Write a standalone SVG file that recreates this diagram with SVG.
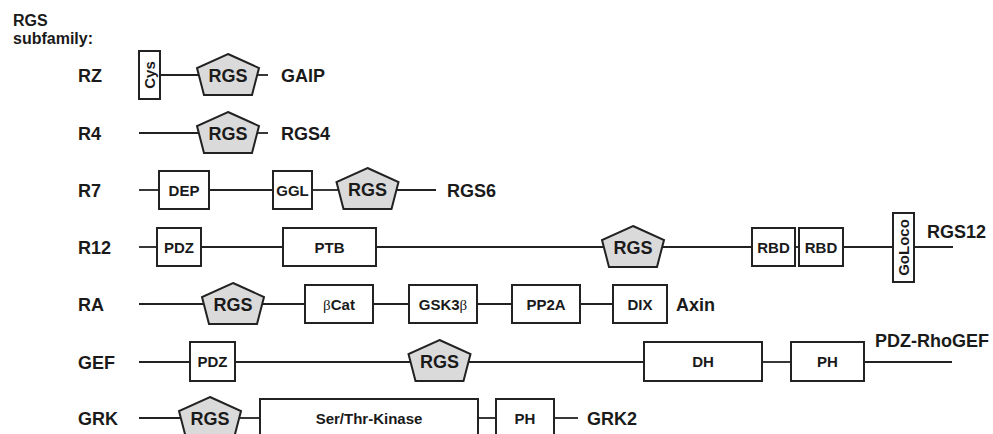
<svg xmlns="http://www.w3.org/2000/svg" xmlns:xlink="http://www.w3.org/1999/xlink" width="993" height="434" viewBox="0 0 993 434">
<style>
  .ln { stroke:#222; stroke-width:1.8; fill:none; }
  .box { fill:#fff; stroke:#222; stroke-width:2; }
  .pent { fill:#dadada; stroke:#222; stroke-width:2; stroke-linejoin:miter; }
  text { font-family:"Liberation Sans", Arial, sans-serif; font-weight:bold; fill:#1a1a1a; }
  .lbl { font-size:18px; }
  .ttl { font-size:16px; }
  .bt { font-size:15px; text-anchor:middle; }
  .pt { font-size:18px; text-anchor:middle; }
  .gr { font-family:"Liberation Serif", "Times New Roman", serif; font-weight:normal; }
</style>
<defs>
  <polygon id="pent" class="pent" points="0,0 31,14 24,41 -24,41 -31,14"/>
</defs>
<rect width="993" height="434" fill="#fff"/>

<g id="title">
  <text class="ttl" x="13" y="26">RGS</text>
  <text class="ttl" x="13" y="44">subfamily:</text>
</g>

<g id="connectors">
  <!-- RZ -->
  <line class="ln" x1="160" y1="75" x2="198" y2="75"/>
  <line class="ln" x1="258" y1="75" x2="268" y2="75"/>
  <!-- R4 -->
  <line class="ln" x1="139" y1="133" x2="198" y2="133"/>
  <line class="ln" x1="258" y1="133" x2="268" y2="133"/>
  <!-- R7 -->
  <line class="ln" x1="139" y1="190" x2="159" y2="190"/>
  <line class="ln" x1="209" y1="190" x2="273" y2="190"/>
  <line class="ln" x1="312" y1="190" x2="338" y2="190"/>
  <line class="ln" x1="397" y1="190" x2="436" y2="190"/>
  <!-- R12 -->
  <line class="ln" x1="139" y1="247" x2="157" y2="247"/>
  <line class="ln" x1="201" y1="247" x2="283" y2="247"/>
  <line class="ln" x1="376" y1="247" x2="604" y2="247"/>
  <line class="ln" x1="662" y1="247" x2="752" y2="247"/>
  <line class="ln" x1="795" y1="247" x2="799" y2="247"/>
  <line class="ln" x1="843" y1="247" x2="893" y2="247"/>
  <line class="ln" x1="914" y1="247" x2="953" y2="247"/>
  <!-- RA -->
  <line class="ln" x1="139" y1="304" x2="203" y2="304"/>
  <line class="ln" x1="263" y1="304" x2="305" y2="304"/>
  <line class="ln" x1="373" y1="304" x2="409" y2="304"/>
  <line class="ln" x1="477" y1="304" x2="512" y2="304"/>
  <line class="ln" x1="580" y1="304" x2="613" y2="304"/>
  <!-- GEF -->
  <line class="ln" x1="139" y1="362" x2="190" y2="362"/>
  <line class="ln" x1="235" y1="362" x2="410" y2="362"/>
  <line class="ln" x1="469" y1="362" x2="644" y2="362"/>
  <line class="ln" x1="762" y1="362" x2="791" y2="362"/>
  <line class="ln" x1="864" y1="362" x2="952" y2="362"/>
  <!-- GRK -->
  <line class="ln" x1="139" y1="418" x2="180" y2="418"/>
  <line class="ln" x1="240" y1="418" x2="260" y2="418"/>
  <line class="ln" x1="478" y1="418" x2="496" y2="418"/>
  <line class="ln" x1="554" y1="418" x2="578" y2="418"/>
</g>

<!-- RZ -->
<g id="rz">
  <text class="lbl" x="78" y="82">RZ</text>
  <g id="rz-cys">
    <rect class="box" x="139" y="51" width="21" height="48"/>
    <text class="bt" transform="translate(149.5,75) rotate(-90)" x="0" y="5">Cys</text>
  </g>
  <g id="rz-rgs">
    <use xlink:href="#pent" x="228" y="54"/>
    <text class="pt" x="228" y="82">RGS</text>
  </g>
  <text class="lbl" x="281" y="82">GAIP</text>
</g>

<!-- R4 -->
<g id="r4">
  <text class="lbl" x="78" y="140">R4</text>
  <g id="r4-rgs">
    <use xlink:href="#pent" x="228" y="112"/>
    <text class="pt" x="228" y="140">RGS</text>
  </g>
  <text class="lbl" x="281" y="140">RGS4</text>
</g>

<!-- R7 -->
<g id="r7">
  <text class="lbl" x="78" y="197">R7</text>
  <g id="r7-dep">
    <rect class="box" x="159" y="171" width="50" height="38"/>
    <text class="bt" x="184" y="195.5">DEP</text>
  </g>
  <g id="r7-ggl">
    <rect class="box" x="273" y="171" width="39" height="38"/>
    <text class="bt" x="292.5" y="195.5">GGL</text>
  </g>
  <g id="r7-rgs">
    <use xlink:href="#pent" x="367.5" y="168"/>
    <text class="pt" x="367.5" y="196">RGS</text>
  </g>
  <text class="lbl" x="447" y="197">RGS6</text>
</g>

<!-- R12 -->
<g id="r12">
  <text class="lbl" x="78" y="254">R12</text>
  <g id="r12-pdz">
    <rect class="box" x="157" y="228" width="44" height="38"/>
    <text class="bt" x="179" y="252.5">PDZ</text>
  </g>
  <g id="r12-ptb">
    <rect class="box" x="283" y="228" width="93" height="38"/>
    <text class="bt" x="329.5" y="252.5">PTB</text>
  </g>
  <g id="r12-rgs">
    <use xlink:href="#pent" x="633" y="226"/>
    <text class="pt" x="633" y="254">RGS</text>
  </g>
  <g id="r12-rbd1">
    <rect class="box" x="752" y="228" width="43" height="38"/>
    <text class="bt" x="773.5" y="252.5">RBD</text>
  </g>
  <g id="r12-rbd2">
    <rect class="box" x="799" y="228" width="44" height="38"/>
    <text class="bt" x="821" y="252.5">RBD</text>
  </g>
  <g id="r12-goloco">
    <rect class="box" x="893" y="213" width="21" height="69"/>
    <text class="bt" transform="translate(903.5,247.5) rotate(-90)" x="0" y="5">GoLoco</text>
  </g>
  <text class="lbl" x="927" y="238">RGS12</text>
</g>

<!-- RA -->
<g id="ra">
  <text class="lbl" x="78" y="311">RA</text>
  <g id="ra-rgs">
    <use xlink:href="#pent" x="233" y="283"/>
    <text class="pt" x="233" y="311">RGS</text>
  </g>
  <g id="ra-bcat">
    <rect class="box" x="305" y="285" width="68" height="38"/>
    <text class="bt" x="339" y="309.5"><tspan class="gr">β</tspan>Cat</text>
  </g>
  <g id="ra-gsk">
    <rect class="box" x="409" y="285" width="68" height="38"/>
    <text class="bt" x="443" y="309.5">GSK3<tspan class="gr">β</tspan></text>
  </g>
  <g id="ra-pp2a">
    <rect class="box" x="512" y="285" width="68" height="38"/>
    <text class="bt" x="546" y="309.5">PP2A</text>
  </g>
  <g id="ra-dix">
    <rect class="box" x="613" y="285" width="54" height="38"/>
    <text class="bt" x="640" y="309.5">DIX</text>
  </g>
  <text class="lbl" x="676" y="311">Axin</text>
</g>

<!-- GEF -->
<g id="gef">
  <text class="lbl" x="78" y="369">GEF</text>
  <g id="gef-pdz">
    <rect class="box" x="190" y="342" width="45" height="39"/>
    <text class="bt" x="212.5" y="367">PDZ</text>
  </g>
  <g id="gef-rgs">
    <use xlink:href="#pent" x="439.5" y="340"/>
    <text class="pt" x="439.5" y="368">RGS</text>
  </g>
  <g id="gef-dh">
    <rect class="box" x="644" y="342" width="118" height="39"/>
    <text class="bt" x="703" y="367">DH</text>
  </g>
  <g id="gef-ph">
    <rect class="box" x="791" y="342" width="73" height="39"/>
    <text class="bt" x="827.5" y="367">PH</text>
  </g>
  <text class="lbl" x="875" y="347">PDZ-RhoGEF</text>
</g>

<!-- GRK -->
<g id="grk">
  <text class="lbl" x="78" y="425">GRK</text>
  <g id="grk-rgs">
    <use xlink:href="#pent" x="210" y="397"/>
    <text class="pt" x="210" y="425">RGS</text>
  </g>
  <g id="grk-kinase">
    <rect class="box" x="260" y="399" width="218" height="40"/>
    <text class="bt" x="369" y="424">Ser/Thr-Kinase</text>
  </g>
  <g id="grk-ph">
    <rect class="box" x="496" y="399" width="58" height="40"/>
    <text class="bt" x="525" y="424">PH</text>
  </g>
  <text class="lbl" x="587" y="425">GRK2</text>
</g>
</svg>
